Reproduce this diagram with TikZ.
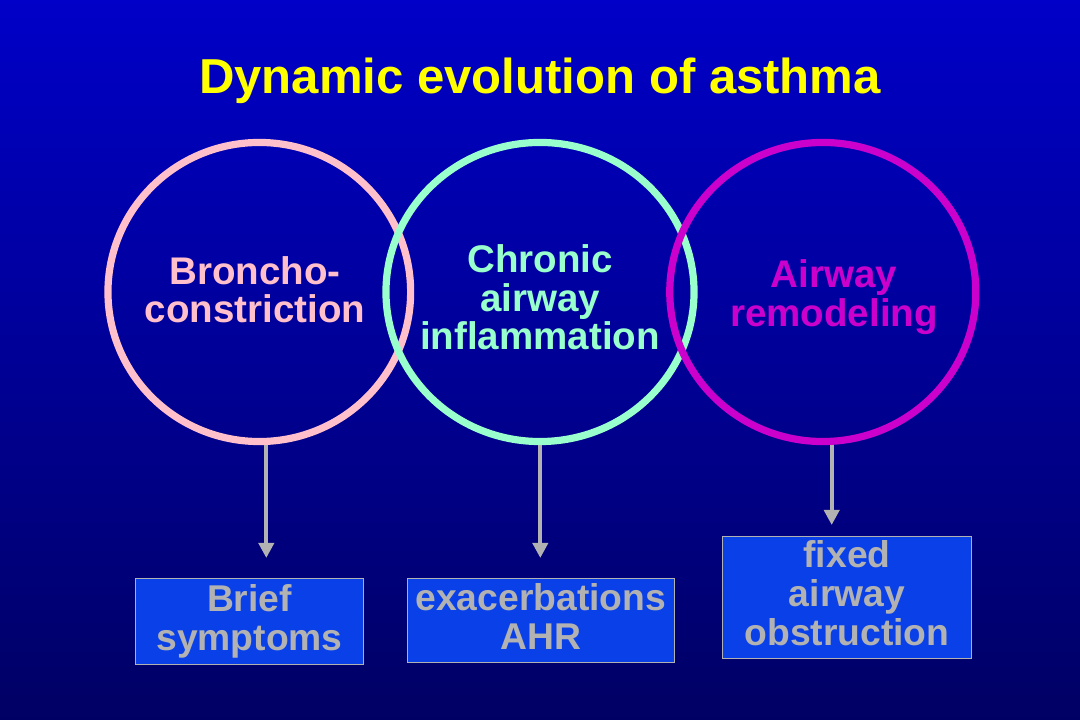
\documentclass[tikz,border=0pt]{standalone}
\usepackage{fontspec}
\setmainfont{Liberation Sans}
\usetikzlibrary{arrows.meta,shapes.geometric}
\definecolor{bgtop}{RGB}{0,0,200}
\definecolor{bgbot}{RGB}{0,0,100}
\definecolor{cpink}{RGB}{255,192,203}
\definecolor{caqua}{RGB}{153,255,204}
\definecolor{cmag}{RGB}{204,0,204}
\definecolor{cgray}{RGB}{178,178,178}
\definecolor{cbox}{RGB}{10,64,232}
\definecolor{ctitle}{RGB}{255,255,0}
\begin{document}
\begin{tikzpicture}[x=0.025cm,y=-0.025cm,
  ring/.style={ellipse,draw,line width=0.18cm,inner sep=0pt,minimum height=7.475cm},
  ringtext/.style={align=center,inner sep=0pt,anchor=base,font=\bfseries\fontsize{27.4}{27.7}\selectfont},
  outbox/.style={draw=cgray,line width=0.6pt,fill=cbox,text=cgray,align=center,inner sep=0pt,
     font=\bfseries\fontsize{26.5}{27.5}\selectfont},
  arr/.style={draw=cgray,line width=0.1cm,-{Triangle[width=0.375cm,length=0.375cm]}}]
\useasboundingbox (0,0) rectangle (1080,720);
\shade[top color=bgtop,bottom color=bgbot] (0,0) rectangle (1080,720);
\node[text=ctitle,font=\bfseries\fontsize{34.9}{40}\selectfont,anchor=base,inner sep=0pt] (title) at (540,94) {Dynamic evolution of asthma};
\node[ring,draw=cpink,minimum width=7.565cm] (c1) at (259.3,292) {};
\node[ring,draw=caqua,minimum width=7.7cm] (c2) at (540,292) {};
\node[ring,draw=cmag,minimum width=7.65cm] (c3) at (822.8,292) {};
\node[ringtext,text=cpink] (t1) at (255,323) {Broncho-\\constriction};
\node[ringtext,text=caqua] (t2) at (540,350) {Chronic\\airway\\inflammation};
\node[ringtext,text=cmag] (t3) at (834,326.7) {Airway\\remodeling};
\node[outbox,minimum width=5.71cm,minimum height=2.15cm] (b1) at (249.5,621.3) {Brief\\symptoms};
\node[outbox,minimum width=6.675cm,minimum height=2.1cm] (b2) at (540.8,620.3) {exacerbations\\AHR\rule[-0.2cm]{0pt}{0pt}};
\node[outbox,minimum width=6.235cm,minimum height=3.06cm] (b3) at (847,597.5) {fixed\\airway\\obstruction\rule[-0.22cm]{0pt}{0pt}};
\coordinate (e1) at (266.3,558);
\coordinate (e2) at (540.3,558);
\coordinate (e3) at (831.7,525);
\draw[arr] (c1.south -| e1) -- (e1);
\draw[arr] (c2.south -| e2) -- (e2);
\draw[arr] (c3.south -| e3) -- (e3);
\end{tikzpicture}
\end{document}
